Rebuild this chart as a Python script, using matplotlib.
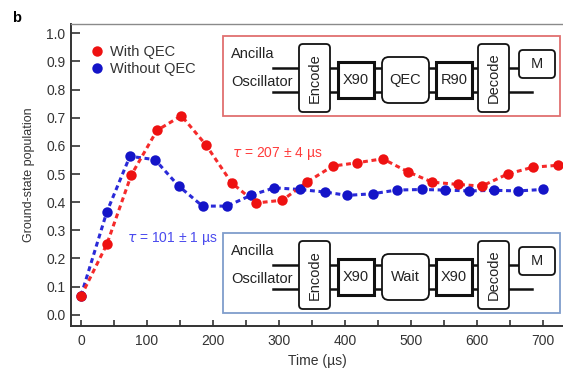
import matplotlib
matplotlib.use("Agg")
import matplotlib.pyplot as plt
from matplotlib.patches import Rectangle, FancyBboxPatch
from matplotlib.ticker import MultipleLocator
from matplotlib.lines import Line2D

plt.rcParams['font.family'] = ['Liberation Sans', 'DejaVu Sans']

# data
t_qec = [0, 39, 76, 115, 152, 189, 228, 265, 305, 342, 381, 418, 457, 495, 532, 571, 607, 646, 684, 722]
p_qec = [0.066, 0.25, 0.496, 0.655, 0.707, 0.604, 0.469, 0.397, 0.407, 0.471,
         0.528, 0.540, 0.554, 0.508, 0.471, 0.463, 0.457, 0.500, 0.524, 0.531]
t_noqec = [0, 39, 74, 112, 148, 184, 221, 258, 293, 331, 370, 403, 442, 478, 516, 551, 588, 626, 662, 699]
p_noqec = [0.068, 0.365, 0.563, 0.551, 0.457, 0.386, 0.386, 0.425, 0.451, 0.445,
           0.436, 0.424, 0.430, 0.443, 0.445, 0.443, 0.440, 0.442, 0.440, 0.445]

red = '#ee1111'
blue = '#1414c8'

W, H = 563, 369
fig = plt.figure(figsize=(W / 100, H / 100), dpi=100)
ax = fig.add_axes([71 / W, 1 - 326 / H, 492 / W, 302 / H])

ax.plot(t_noqec, p_noqec, ls=(0, (1.6, 1.2)), lw=2.2, color='#2a2ad8', zorder=2)
ax.plot(t_qec, p_qec, ls=(0, (1.6, 1.2)), lw=2.2, color='#f52a2a', zorder=3)
ax.plot(t_noqec, p_noqec, 'o', ms=7.5, color=blue, mec='none', zorder=4)
ax.plot(t_qec, p_qec, 'o', ms=7.5, color=red, mec='none', zorder=5)

ax.set_xlim(-15.2, 730)
ax.set_ylim(-0.04, 1.033)
ax.xaxis.set_major_locator(MultipleLocator(100))
ax.xaxis.set_minor_locator(MultipleLocator(50))
ax.yaxis.set_major_locator(MultipleLocator(0.1))
ax.yaxis.set_major_formatter(plt.FormatStrFormatter('%.1f'))
ax.tick_params(axis='y', direction='in', length=6.5, width=1.2, labelsize=10, colors='#333333', pad=4)
ax.tick_params(axis='x', which='both', direction='in', length=4, width=1.2, labelsize=10, colors='#333333', pad=6)
for s in ['left', 'bottom']:
    ax.spines[s].set_linewidth(1.4)
    ax.spines[s].set_color('#333333')
ax.spines['top'].set_color('#8a8a8a')
ax.spines['top'].set_linewidth(1.0)
ax.spines['right'].set_visible(False)

ax.set_xlabel('Time (µs)', fontsize=10, color='#333333', labelpad=4)
ax.set_ylabel('Ground-state population', fontsize=9, color='#333333', labelpad=8)

handles = [Line2D([], [], marker='o', ls='none', ms=7.5, color=red, mec='none'),
           Line2D([], [], marker='o', ls='none', ms=7.5, color=blue, mec='none')]
ax.legend(handles, ['With QEC', 'Without QEC'], loc='upper left', bbox_to_anchor=(0.038, 0.93),
          frameon=False, fontsize=10.5, handlelength=1.0, handletextpad=0.4,
          borderpad=0, borderaxespad=0, labelspacing=0.2)
for txt in ax.get_legend().get_texts():
    txt.set_color('#333333')

ax.text(229, 0.572, r'$\tau$ = 207 ± 4 µs', color='#ff3b3b', fontsize=10, va='center')
ax.text(70, 0.272, r'$\tau$ = 101 ± 1 µs', color='#4a4aee', fontsize=10, va='center')

fig.text(12 / W, 1 - 18 / H, 'b', fontsize=10.5, fontweight='bold', va='center')

# circuit insets, drawn in pixel coordinates
ov = fig.add_axes([0, 0, 1, 1], zorder=10)
ov.set_xlim(0, W)
ov.set_ylim(H, 0)
ov.axis('off')
ov.patch.set_alpha(0)


def rbox(x0, x1, y0, y1, lw=1.3, r=4):
    ov.add_patch(FancyBboxPatch((x0 + r, y0 + r), x1 - x0 - 2 * r, y1 - y0 - 2 * r,
                                boxstyle='round,pad=%d' % r, fc='white', ec='#111111', lw=lw, zorder=3))


def sbox(x0, x1, y0, y1, lw=2.2):
    ov.add_patch(Rectangle((x0, y0), x1 - x0, y1 - y0, fc='white', ec='#111111', lw=lw, zorder=3))


def circuit(top, edge, mid, gate2):
    ov.add_patch(Rectangle((223, top), 337, 80, fc='white', ec=edge, lw=1.3, zorder=1))
    ov.text(231, top + 18, 'Ancilla', fontsize=10.5, va='center', color='#222222', zorder=4)
    ov.text(231, top + 46, 'Oscillator', fontsize=10.5, va='center', color='#222222', zorder=4)
    ov.plot([273, 519], [top + 32, top + 32], color='#111111', lw=1.8, zorder=2)
    ov.plot([273, 532], [top + 56, top + 56], color='#111111', lw=1.8, zorder=2)
    rbox(299, 330, top + 8, top + 76)
    ov.text(314.5, top + 42, 'Encode', rotation=90, fontsize=10.5, ha='center', va='center', color='#222222', zorder=4)
    sbox(338, 374, top + 26, top + 62)
    ov.text(356, top + 44, 'X90', fontsize=10.5, ha='center', va='center', color='#222222', zorder=4)
    rbox(382, 429, top + 21, top + 67, r=7)
    ov.text(405.5, top + 44, mid, fontsize=10.5, ha='center', va='center', color='#222222', zorder=4)
    sbox(436, 472, top + 26, top + 62)
    ov.text(454, top + 44, gate2, fontsize=10.5, ha='center', va='center', color='#222222', zorder=4)
    rbox(478, 509, top + 8, top + 76)
    ov.text(493.5, top + 42, 'Decode', rotation=90, fontsize=10.5, ha='center', va='center', color='#222222', zorder=4)
    rbox(519, 555, top + 14, top + 42)
    ov.text(537, top + 28, 'M', fontsize=10.5, ha='center', va='center', color='#222222', zorder=4)


circuit(36, '#e07070', 'QEC', 'R90')
circuit(233, '#7f9dcc', 'Wait', 'X90')

fig.savefig('out.png', dpi=100)
